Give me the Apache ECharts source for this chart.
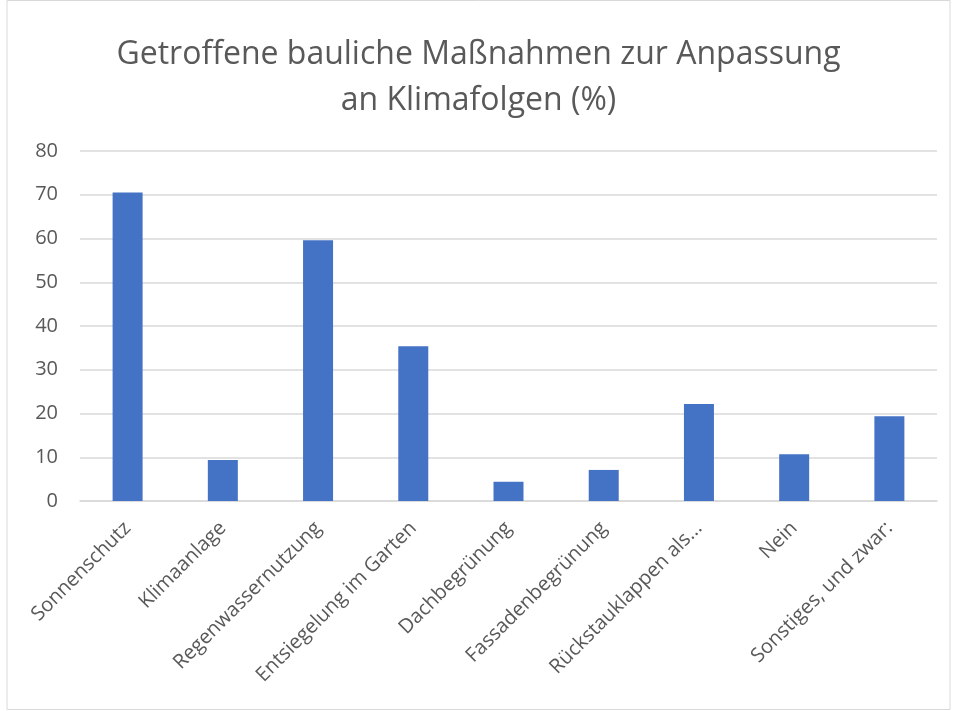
<!DOCTYPE html>
<html><head><meta charset="utf-8">
<script src="https://cdn.jsdelivr.net/npm/echarts@6/dist/echarts.min.js"></script>
<style>html,body{margin:0;padding:0;background:#fff}#c{width:957px;height:711px}</style>
</head><body><div id="c"></div>
<script>
const titleText = "Getroffene bauliche Maßnahmen zur Anpassung\nan Klimafolgen (%)";
const categories = ["Sonnenschutz","Klimaanlage","Regenwassernutzung","Entsiegelung im Garten","Dachbegrünung","Fassadenbegrünung","Rückstauklappen als...","Nein","Sonstiges, und zwar:"];
const values = [70.5, 9.4, 59.6, 35.4, 4.4, 7.1, 22.2, 10.7, 19.4];
const yTicks = [0,10,20,30,40,50,60,70,80];

const chart = echarts.init(document.getElementById('c'), null, {renderer:'canvas'});
const font = '"Open Sans", "Noto Sans", sans-serif';
chart.setOption({
  animation:false,
  backgroundColor:'#fff',
  title:{text:titleText,left:'center',top:27,textStyle:{fontFamily:font,fontSize:32,fontWeight:'normal',color:'#595959',lineHeight:46}},
  grid:{left:80,right:20,top:151,bottom:210,containLabel:false},
  xAxis:{type:'category',data:categories,
    axisLine:{lineStyle:{color:'#d9d9d9',width:1.5}},axisTick:{show:false},
    axisLabel:{rotate:45,interval:0,fontFamily:font,fontSize:20,color:'#595959',margin:24}},
  yAxis:{type:'value',min:yTicks[0],max:yTicks[yTicks.length-1],interval:10,
    axisLine:{show:false},axisTick:{show:false},
    splitLine:{lineStyle:{color:'#d9d9d9',width:1.5}},
    axisLabel:{fontFamily:font,fontSize:20,color:'#595959',margin:22}},
  series:[{type:'bar',data:values,barWidth:30,itemStyle:{color:'#4472c4'}}],
  graphic:[{type:'rect',shape:{x:7,y:0.5,width:943,height:709},style:{fill:'none',stroke:'#d9d9d9',lineWidth:1},silent:true}]
});
</script></body></html>
